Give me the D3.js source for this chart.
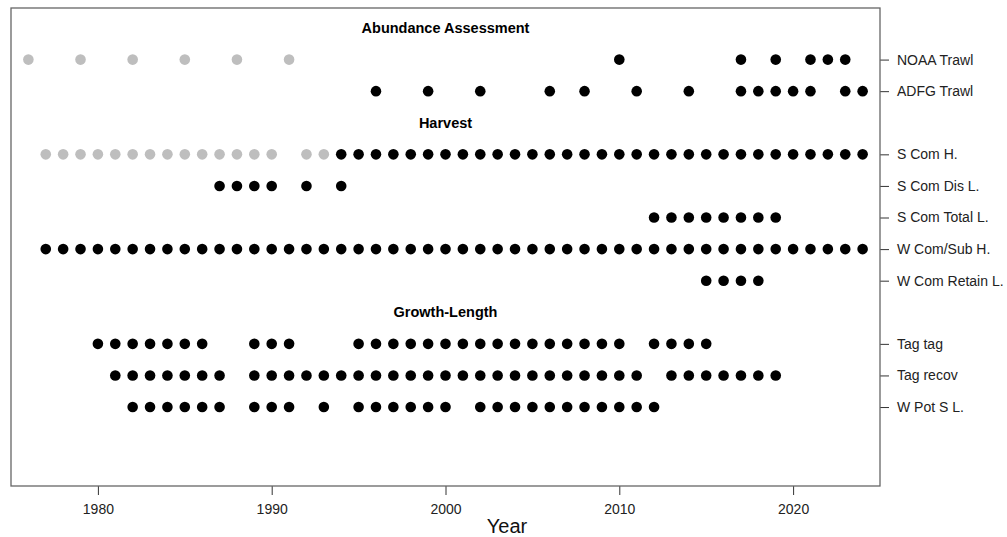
<!DOCTYPE html>
<html>
<head>
<meta charset="utf-8">
<script src="https://cdn.jsdelivr.net/npm/d3@7"></script>
<style>
  body { margin: 0; background: #fff; }
  text { font-family: "Liberation Sans", Arial, sans-serif; }
</style>
</head>
<body>
<div id="chart"></div>
<script>
// row order top to bottom, headers included
var rows = ["Abundance Assessment", "NOAA Trawl", "ADFG Trawl",
            "Harvest", "S Com H.", "S Com Dis L.", "S Com Total L.", "W Com/Sub H.", "W Com Retain L.",
            "Growth-Length", "Tag tag", "Tag recov", "W Pot S L."];
var headers = ["Abundance Assessment", "Harvest", "Growth-Length"];

var xTicks = [1980, 1990, 2000, 2010, 2020];

// years with data (black) and older / partial years (grey)
var noaaTrawl = [2010, 2017, 2019, 2021, 2022, 2023];
var noaaTrawlGrey = [1976, 1979, 1982, 1985, 1988, 1991];
var adfgTrawl = [1996, 1999, 2002, 2006, 2008, 2011, 2014, 2017, 2018, 2019, 2020, 2021, 2023, 2024];
var sComH = [1994, 1995, 1996, 1997, 1998, 1999, 2000, 2001, 2002, 2003, 2004, 2005, 2006, 2007, 2008,
             2009, 2010, 2011, 2012, 2013, 2014, 2015, 2016, 2017, 2018, 2019, 2020, 2021, 2022, 2023, 2024];
var sComHGrey = [1977, 1978, 1979, 1980, 1981, 1982, 1983, 1984, 1985, 1986, 1987, 1988, 1989, 1990, 1992, 1993];
var sComDisL = [1987, 1988, 1989, 1990, 1992, 1994];
var sComTotalL = [2012, 2013, 2014, 2015, 2016, 2017, 2018, 2019];
var wComSubH = [1977, 1978, 1979, 1980, 1981, 1982, 1983, 1984, 1985, 1986, 1987, 1988, 1989, 1990,
                1991, 1992, 1993, 1994, 1995, 1996, 1997, 1998, 1999, 2000, 2001, 2002, 2003, 2004,
                2005, 2006, 2007, 2008, 2009, 2010, 2011, 2012, 2013, 2014, 2015, 2016, 2017, 2018,
                2019, 2020, 2021, 2022, 2023, 2024];
var wComRetainL = [2015, 2016, 2017, 2018];
var tagTag = [1980, 1981, 1982, 1983, 1984, 1985, 1986, 1989, 1990, 1991,
              1995, 1996, 1997, 1998, 1999, 2000, 2001, 2002, 2003, 2004, 2005, 2006, 2007, 2008, 2009, 2010,
              2012, 2013, 2014, 2015];
var tagRecov = [1981, 1982, 1983, 1984, 1985, 1986, 1987,
                1989, 1990, 1991, 1992, 1993, 1994, 1995, 1996, 1997, 1998, 1999, 2000, 2001, 2002,
                2003, 2004, 2005, 2006, 2007, 2008, 2009, 2010, 2011,
                2013, 2014, 2015, 2016, 2017, 2018, 2019];
var wPotSL = [1982, 1983, 1984, 1985, 1986, 1987, 1989, 1990, 1991, 1993,
              1995, 1996, 1997, 1998, 1999, 2000,
              2002, 2003, 2004, 2005, 2006, 2007, 2008, 2009, 2010, 2011, 2012];

var series = [
    {row: "NOAA Trawl", years: noaaTrawlGrey, grey: true},
    {row: "NOAA Trawl", years: noaaTrawl},
    {row: "ADFG Trawl", years: adfgTrawl},
    {row: "S Com H.", years: sComHGrey, grey: true},
    {row: "S Com H.", years: sComH},
    {row: "S Com Dis L.", years: sComDisL},
    {row: "S Com Total L.", years: sComTotalL},
    {row: "W Com/Sub H.", years: wComSubH},
    {row: "W Com Retain L.", years: wComRetainL},
    {row: "Tag tag", years: tagTag},
    {row: "Tag recov", years: tagRecov},
    {row: "W Pot S L.", years: wPotSL}
];

var width = 1007, height = 537;
var boxL = 11, boxR = 880, boxT = 8, boxB = 486;

var svg = d3.select("#chart").append("svg")
    .attr("width", width)
    .attr("height", height);

var x = d3.scaleLinear().domain([1975, 2025]).range([boxL, boxR]);
// row index -> pixel, box runs a bit past first/last row
var y = d3.scaleLinear().domain([-0.633, 14.5]).range([boxT, boxB]);
var rowY = function (name) { return y(rows.indexOf(name)); };

// points
var pts = [];
series.forEach(function (s) {
    s.years.forEach(function (yr) {
        pts.push({year: yr, row: s.row, grey: !!s.grey});
    });
});

svg.append("g").selectAll("circle")
    .data(pts)
    .enter().append("circle")
    .attr("cx", d => x(d.year))
    .attr("cy", d => rowY(d.row))
    .attr("r", 5.3)
    .attr("fill", d => d.grey ? "#bebebe" : "#000");

// section headers
svg.append("g").selectAll("text")
    .data(headers)
    .enter().append("text")
    .attr("x", x(2000))
    .attr("y", d => rowY(d))
    .attr("dy", "0.35em")
    .attr("text-anchor", "middle")
    .attr("font-size", 14.5)
    .attr("font-weight", "bold")
    .attr("fill", "#000")
    .text(d => d);

// bottom axis
var xAxis = svg.append("g")
    .attr("transform", "translate(0," + boxB + ")")
    .call(d3.axisBottom(x).tickValues(xTicks).tickFormat(d3.format("d")).tickSize(9).tickPadding(9));
xAxis.select(".domain").remove();
xAxis.selectAll("line").attr("stroke", "#333");
xAxis.selectAll("text").attr("font-size", 14).attr("fill", "#222")
    .style("font-family", "'Liberation Sans', Arial, sans-serif");

// right axis, data rows only
var dataRows = rows.filter(r => headers.indexOf(r) < 0);
var yAxis = svg.append("g")
    .attr("transform", "translate(" + boxR + ",0)")
    .call(d3.axisRight(y).tickValues(dataRows.map(r => rows.indexOf(r)))
        .tickFormat(i => rows[i]).tickSize(9).tickPadding(8));
yAxis.select(".domain").remove();
yAxis.selectAll("line").attr("stroke", "#333");
yAxis.selectAll("text").attr("font-size", 14).attr("fill", "#222")
    .style("font-family", "'Liberation Sans', Arial, sans-serif");

// box
svg.append("rect")
    .attr("x", boxL).attr("y", boxT)
    .attr("width", boxR - boxL).attr("height", boxB - boxT)
    .attr("fill", "none").attr("stroke", "#666").attr("stroke-width", 1.3);

svg.append("text")
    .attr("x", 507).attr("y", 533)
    .attr("text-anchor", "middle")
    .attr("font-size", 20)
    .attr("fill", "#111")
    .text("Year");
</script>
</body>
</html>
